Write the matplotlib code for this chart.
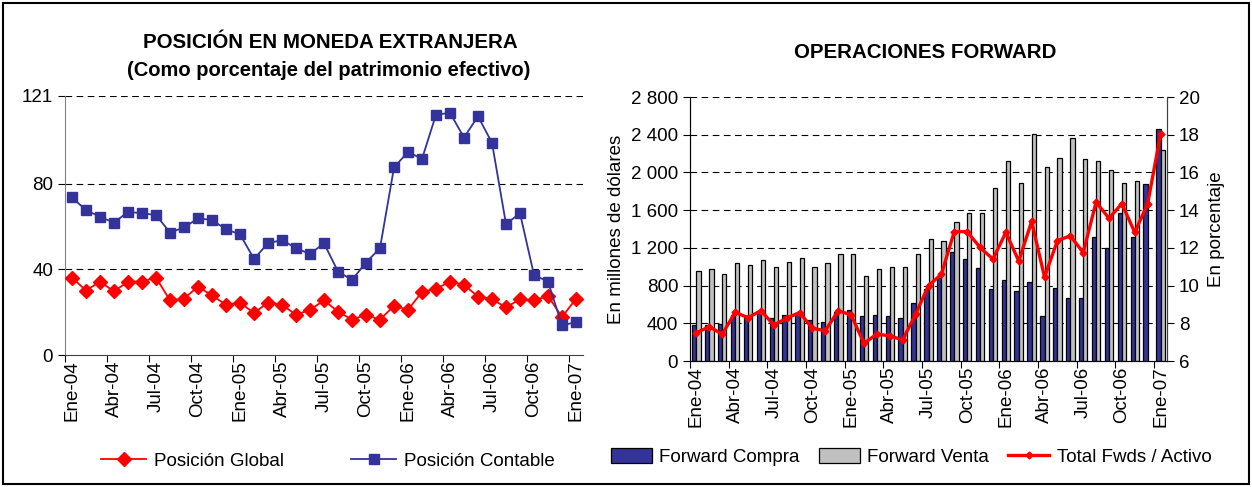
import numpy as np
import matplotlib
matplotlib.use("Agg")
import matplotlib.pyplot as plt
from matplotlib.patches import Rectangle, Patch
from matplotlib.lines import Line2D
from matplotlib.ticker import FuncFormatter

plt.rcParams['font.family'] = ['Liberation Sans', 'DejaVu Sans']

# ---------------- data ----------------
month_names = ['Ene', 'Feb', 'Mar', 'Abr', 'May', 'Jun', 'Jul', 'Ago', 'Set', 'Oct', 'Nov', 'Dic']
years = ['04', '05', '06']
categories = [f"{m}-{y}" for y in years for m in month_names] + ['Ene-07']

pos_global = [36.2, 30.1, 34.3, 29.7, 34.3, 34.3, 36.2, 25.5, 26.3, 32.0, 27.8, 23.5,
              24.5, 19.6, 24.5, 23.5, 18.8, 21.1, 25.5, 20.3, 16.5, 18.8, 16.5, 23.0,
              21.1, 29.5, 30.9, 34.3, 32.8, 27.3, 26.1, 22.2, 26.1, 25.5, 27.6, 17.7, 26.3]
pos_contable = [73.6, 67.7, 64.6, 61.8, 66.9, 66.2, 65.4, 57.2, 59.6, 63.8, 63.1, 58.7,
                56.4, 44.9, 52.2, 53.7, 49.9, 47.2, 52.2, 39.0, 35.1, 43.2, 49.9, 87.6,
                94.9, 91.6, 112.3, 113.1, 101.6, 111.5, 99.1, 61.2, 66.2, 37.4, 34.3, 13.8, 15.4]

fwd_compra = [377, 384, 395, 490, 470, 518, 455, 490, 495, 430, 412, 525,
              543, 472, 490, 472, 455, 617, 765, 883, 1161, 1079, 983, 759,
              855, 741, 837, 481, 777, 670, 670, 1310, 1200, 1575, 1320, 1880, 2465]
fwd_venta = [959, 980, 924, 1037, 1016, 1073, 1002, 1055, 1090, 1002, 1037, 1133,
             1133, 906, 980, 998, 998, 1133, 1290, 1268, 1471, 1567, 1567, 1834,
             2119, 1888, 2404, 2059, 2155, 2362, 2145, 2125, 2030, 1886, 1905, np.nan, 2240]
total_fwds_activo = [7.50, 7.82, 7.42, 8.58, 8.30, 8.67, 7.91, 8.27, 8.57, 7.73, 7.61, 8.67,
                     8.44, 6.94, 7.43, 7.33, 7.12, 8.48, 10.0, 10.6, 12.86, 12.86, 12.02, 11.4,
                     12.82, 11.3, 13.4, 10.45, 12.38, 12.64, 11.75, 14.42, 13.57, 14.34, 12.82, 14.34, 18.02]

left_yticks = [0, 40, 80, 121]
right_yticks = [0, 400, 800, 1200, 1600, 2000, 2400, 2800]
pct_yticks = [6, 8, 10, 12, 14, 16, 18, 20]

# ---------------- styles ----------------
NAVY = '#333399'
RED = '#FF0000'
GRAY = '#C0C0C0'
FS = 13.5

W, H = 1252, 487
fig = plt.figure(figsize=(W / 100, H / 100), dpi=100)

x = np.arange(len(categories))
label_idx = np.arange(0, len(categories), 3)
tick_pos = np.arange(-0.5, len(categories) - 1, 3)


def setup_xaxis(ax):
    ax.set_xlim(-0.5, len(categories) - 0.5)
    ax.set_xticks(tick_pos)
    ax.set_xticklabels([])
    ax.set_xticks(label_idx, minor=True)
    ax.set_xticklabels([categories[i] for i in label_idx], minor=True,
                       rotation=90, fontsize=FS)
    ax.tick_params(axis='x', which='minor', length=0, pad=4)
    ax.tick_params(axis='x', which='major', length=5, direction='out')


# ---------------- left chart ----------------
ax1 = fig.add_axes([65 / W, 1 - 355 / H, (583 - 65) / W, (355 - 96) / H])
ax1.plot(x, pos_global, color=RED, lw=1.3, marker='D', ms=6.8, mec=RED, mfc=RED,
         label='Posición Global', zorder=3)
ax1.plot(x, pos_contable, color=NAVY, lw=1.3, marker='s', ms=7.2, mec=NAVY, mfc=NAVY,
         label='Posición Contable', zorder=3)
ax1.set_ylim(0, 121)
ax1.set_yticks(left_yticks)
ax1.tick_params(axis='y', labelsize=FS, length=5, direction='out')
for v in left_yticks[1:]:
    ax1.axhline(v, color='black', lw=0.8, ls=(0, (6, 4)), zorder=1)
setup_xaxis(ax1)
ax1.spines['top'].set_visible(False)
ax1.spines['right'].set_visible(False)
ax1.spines['left'].set_color('#808080')
ax1.spines['bottom'].set_color('#404040')

fig.text(330 / W, 1 - 42 / H, 'POSICIÓN EN MONEDA EXTRANJERA', ha='center', va='center',
         fontsize=14.8, fontweight='bold')
fig.text(329 / W, 1 - 70 / H, '(Como porcentaje del patrimonio efectivo)', ha='center',
         va='center', fontsize=14.5, fontweight='bold')

h1 = [Line2D([], [], color=RED, lw=1.3, marker='D', ms=6.8, mec=RED, mfc=RED),
      Line2D([], [], color=NAVY, lw=1.3, marker='s', ms=7.2, mec=NAVY, mfc=NAVY)]
fig.legend(h1, ['Posición Global', 'Posición Contable'], loc='center',
           bbox_to_anchor=(328 / W, 1 - 461 / H), ncol=2, frameon=False, fontsize=FS,
           handlelength=2.4, columnspacing=3.6, handletextpad=0.4)

# ---------------- right chart ----------------
ax2 = fig.add_axes([690 / W, 1 - 361 / H, (1167 - 690) / W, (361 - 97) / H])
bw = 0.33
ax2.bar(x - bw / 2, fwd_compra, width=bw, color=NAVY, edgecolor='black', lw=0.9,
        zorder=2, label='Forward Compra')
ax2.bar(x + bw / 2, fwd_venta, width=bw, color=GRAY, edgecolor='black', lw=0.9,
        zorder=2, label='Forward Venta')
ax2.set_ylim(0, 2800)
ax2.set_yticks(right_yticks)
ax2.yaxis.set_major_formatter(FuncFormatter(lambda v, p: f"{int(v):,}".replace(',', ' ')))
ax2.tick_params(axis='y', labelsize=FS, length=5, direction='out')
for v in right_yticks[1:]:
    ax2.axhline(v, color='black', lw=0.8, ls=(0, (6, 4)), zorder=1)
setup_xaxis(ax2)
ax2.spines['top'].set_visible(False)
ax2.spines['left'].set_color('#404040')
ax2.spines['bottom'].set_color('#404040')
ax2.spines['right'].set_color('#404040')
ax2.set_ylabel('En millones de dólares', fontsize=FS, labelpad=4)

ax2r = ax2.twinx()
ax2r.plot(x, total_fwds_activo, color=RED, lw=2.4, marker='D', ms=3.5, mec=RED, mfc=RED,
          zorder=4)
ax2r.set_ylim(6, 20)
ax2r.set_yticks(pct_yticks)
ax2r.tick_params(axis='y', labelsize=FS, length=5, direction='out')
ax2r.spines['top'].set_visible(False)
ax2r.spines['right'].set_color('#404040')
ax2r.set_ylabel('En porcentaje', fontsize=FS, labelpad=6)

fig.text(925 / W, 1 - 52 / H, 'OPERACIONES FORWARD', ha='center', va='center',
         fontsize=14.8, fontweight='bold')

h2 = [Patch(facecolor=NAVY, edgecolor='black', lw=0.9),
      Patch(facecolor=GRAY, edgecolor='black', lw=0.9),
      Line2D([], [], color=RED, lw=2.4, marker='D', ms=3.5, mec=RED, mfc=RED)]
fig.legend(h2, ['Forward Compra', 'Forward Venta', 'Total Fwds / Activo'], loc='center',
           bbox_to_anchor=(911 / W, 1 - 457 / H), ncol=3, frameon=False, fontsize=FS,
           handlelength=2.2, handleheight=0.8, columnspacing=1.0, handletextpad=0.4)

# outer frame
fig.patches.append(Rectangle((3 / W, 3 / H), 1 - 6 / W, 1 - 6 / H, transform=fig.transFigure,
                             fill=False, edgecolor='black', lw=1.5))

fig.savefig('out.png', dpi=100)
